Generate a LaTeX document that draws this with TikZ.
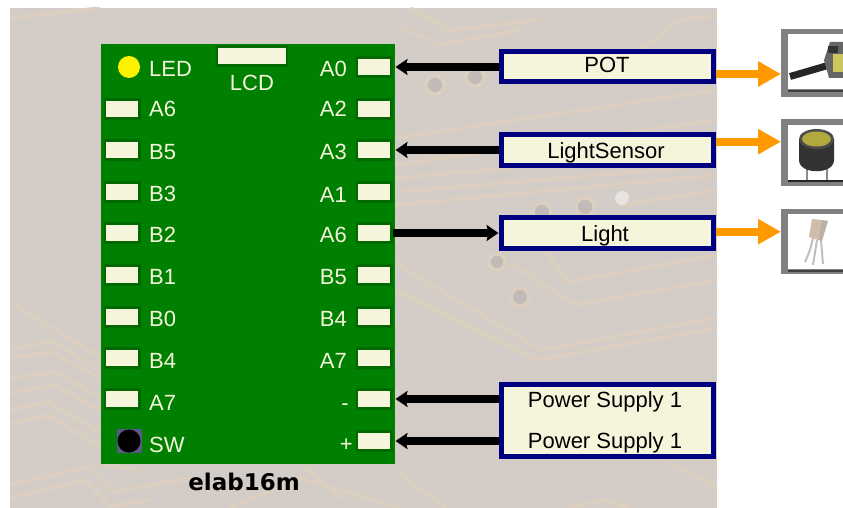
\documentclass[tikz,border=0pt]{standalone}
\usepackage{fontspec}
\setmainfont{Liberation Sans}
\newfontfamily\titlefont{DejaVu Sans}
\usetikzlibrary{arrows.meta}
\definecolor{boardgreen}{HTML}{008000}
\definecolor{pinedge}{HTML}{006A00}
\definecolor{pincream}{HTML}{F5F5DC}
\definecolor{boxblue}{HTML}{000080}
\definecolor{wireorange}{HTML}{FF9900}
\definecolor{pcbback}{HTML}{D4CCC6}
\definecolor{pcbtrace}{HTML}{DDCFC0}
\definecolor{pcbhole}{HTML}{C2BAB6}
\tikzset{
    boardtext/.style={text=pincream, inner sep=0pt, font=\fontsize{22}{26}\selectfont},
    pinbox/.style={draw=pinedge, fill=pincream, line width=2.5pt, minimum width=34.5pt, minimum height=19pt, inner sep=0pt},
    partbox/.style={draw=boxblue, fill=pincream, line width=5pt, minimum width=212pt, inner sep=0pt},
    parttext/.style={text=black, anchor=base, inner sep=0pt, font=\fontsize{22}{26}\selectfont},
    wirein/.style={-{Stealth[length=12pt, width=16pt, inset=2pt]}, line width=8pt, black},
    wireout/.style={-{Triangle[length=23pt, width=24pt]}, line width=8pt, wireorange},
    trace/.style={pcbtrace, line width=3.5pt},
    iconframe/.style={fill=black!50},
}
\begin{document}
\begin{tikzpicture}[x=1pt, y=-1pt]
    \useasboundingbox (0, 0) rectangle (843, 508);
    \fill[pcbback] (10, 8) rectangle (717, 508);

    \begin{scope}
        \clip (10, 8) rectangle (717, 508);
        \draw[trace] (10, 18) -- (100, 8);
        \draw[trace] (10, 302) -- (100, 357);
        \draw[trace] (10, 350) -- (52, 341) -- (100, 370);
        \draw[trace] (10, 358) -- (52, 352) -- (100, 378);
        \draw[trace] (10, 378) -- (55, 372) -- (100, 397);
        \draw[trace] (10, 393) -- (55, 385) -- (100, 410);
        \draw[trace] (10, 410) -- (48, 402) -- (100, 432);
        \draw[trace] (10, 424) -- (48, 415) -- (100, 447);
        \draw[trace] (10, 485) -- (88, 467) -- (113, 492) -- (190, 478);
        \draw[trace] (10, 498) -- (85, 480) -- (110, 506) -- (150, 500);
        \draw[trace] (100, 464) -- (140, 470);
        \draw[trace] (230, 508) -- (300, 478) -- (400, 508);
        \draw[trace] (300, 464) -- (345, 500);
        \draw[trace] (395, 263) -- (541, 350) -- (717, 318);
        \draw[trace] (395, 290) -- (538, 360) -- (717, 328);
        \draw[trace] (510, 263) -- (575, 305) -- (717, 280);
        \draw[trace] (545, 250) -- (568, 282) -- (717, 255);
        \draw[trace] (395, 470) -- (445, 508);
        \draw[trace] (568, 508) -- (602, 500) -- (630, 508);
        \draw[trace] (668, 463) -- (717, 487);
        \draw[trace] (395, 138) -- (717, 90);
        \draw[trace] (395, 165) -- (717, 120);
        \draw[trace] (395, 178) -- (717, 150);
        \draw[trace] (395, 192) -- (717, 165);
        \draw[trace] (395, 205) -- (717, 175);
        \draw[trace] (395, 25) -- (440, 45) -- (520, 30);
        \draw[trace] (410, 8) -- (450, 30) -- (540, 20);
        \draw[trace] (640, 50) -- (680, 20) -- (717, 15);
        \draw[trace] (620, 205) -- (717, 190);
        \draw[trace, fill=pcbhole] (435, 85) circle (9);
        \draw[trace, fill=pcbhole] (475, 77) circle (9);
        \draw[trace, fill=pcbhole] (497, 262) circle (8);
        \draw[trace, fill=pcbhole] (520, 297) circle (9);
        \draw[trace, fill=pcbhole] (585, 207) circle (9);
        \draw[trace, fill=pcbhole] (542, 212) circle (9);
        \fill[white!45!pcbback] (622, 198) circle (7);
    \end{scope}

    \fill[boardgreen] (101, 44) rectangle (395, 464);

    \fill[yellow] (129, 67) circle (11);
    \node[boardtext, anchor=base west] (ledtext) at (149, 77) {LED};
    \node[pinbox, minimum width=70pt] (lcdpin) at (252, 56) {};
    \node[boardtext, anchor=base] (lcdtext) at (252, 91) {LCD};

    \node[pinbox] (L1) at (122, 109) {};
    \node[boardtext, anchor=base west] (L1text) at (149, 117) {A6};
    \node[pinbox] (L2) at (122, 150) {};
    \node[boardtext, anchor=base west] (L2text) at (149, 159) {B5};
    \node[pinbox] (L3) at (122, 192) {};
    \node[boardtext, anchor=base west] (L3text) at (149, 201) {B3};
    \node[pinbox] (L4) at (122, 233) {};
    \node[boardtext, anchor=base west] (L4text) at (149, 242) {B2};
    \node[pinbox] (L5) at (122, 275) {};
    \node[boardtext, anchor=base west] (L5text) at (149, 284) {B1};
    \node[pinbox] (L6) at (122, 317) {};
    \node[boardtext, anchor=base west] (L6text) at (149, 326) {B0};
    \node[pinbox] (L7) at (122, 358) {};
    \node[boardtext, anchor=base west] (L7text) at (149, 368) {B4};
    \node[pinbox] (L8) at (122, 399) {};
    \node[boardtext, anchor=base west] (L8text) at (149, 410) {A7};

    \fill[black!45!blue!30!gray] (117, 429) rectangle (142, 453);
    \fill[black] (129, 441) circle (11.5);
    \node[boardtext, anchor=base west] (swtext) at (149, 452) {SW};

    \node[pinbox] (R1) at (374, 67) {};
    \node[boardtext, anchor=base east] (R1text) at (347, 77) {A0};
    \node[pinbox] (R2) at (374, 109) {};
    \node[boardtext, anchor=base east] (R2text) at (347, 117) {A2};
    \node[pinbox] (R3) at (374, 150) {};
    \node[boardtext, anchor=base east] (R3text) at (347, 160) {A3};
    \node[pinbox] (R4) at (374, 192) {};
    \node[boardtext, anchor=base east] (R4text) at (347, 202) {A1};
    \node[pinbox] (R5) at (374, 233) {};
    \node[boardtext, anchor=base east] (R5text) at (347, 242) {A6};
    \node[pinbox] (R6) at (374, 275) {};
    \node[boardtext, anchor=base east] (R6text) at (347, 284) {B5};
    \node[pinbox] (R7) at (374, 317) {};
    \node[boardtext, anchor=base east] (R7text) at (347, 326) {B4};
    \node[pinbox] (R8) at (374, 358) {};
    \node[boardtext, anchor=base east] (R8text) at (347, 368) {A7};
    \node[pinbox] (R9) at (374, 399) {};
    \node[boardtext, anchor=base east] (R9text) at (349, 410) {-};
    \node[pinbox] (R10) at (374, 441) {};
    \node[boardtext, anchor=base east] (R10text) at (353, 451) {+};

    \node[anchor=base, inner sep=0pt, font=\titlefont\bfseries\fontsize{23}{27}\selectfont] (title) at (244, 490) {elab16m};

    \node[partbox, minimum height=30pt] (POT) at (607, 67) {};
    \node[parttext] (POTtext) at (607, 73) {POT};
    \node[partbox, minimum height=31.5pt] (LS) at (607, 150) {};
    \node[parttext] (LStext) at (606, 158) {LightSensor};
    \node[partbox, minimum height=31.5pt] (LT) at (607, 233) {};
    \node[parttext] (LTtext) at (605, 241) {Light};
    \node[partbox, minimum height=72.5pt] (PS) at (607, 420.3) {};
    \node[parttext] (PS1text) at (605, 407) {Power Supply 1};
    \node[parttext] (PS2text) at (605, 448) {Power Supply 1};

    \draw[wirein, shorten >=3pt] (POT.west) -- (R1.east);
    \draw[wirein, shorten >=3pt] (LS.west) -- (R3.east);
    \draw[wirein] (R5.east) -- (LT.west);
    \draw[wirein, shorten >=3pt] (PS.west |- R9.east) -- (R9.east);
    \draw[wirein, shorten >=3pt] (PS.west |- R10.east) -- (R10.east);

    \fill[iconframe] (781, 29) rectangle (843, 97);
    \fill[white] (788, 34) rectangle (843, 89);
    \fill[black!75] (788, 90) rectangle (843, 92);
    \coordinate (POTicon) at (781, 74);
    \draw[line width=7pt, black!85] (790, 76.5) -- (826, 66);
    \fill[black!60] (824, 60) -- (830, 42) -- (843, 42) -- (843, 78) -- (829, 78) -- cycle;
    \fill[yellow!55!gray] (833, 54) -- (843, 54) -- (843, 72) -- (833, 72) -- cycle;
    \fill[black!80] (828, 46) rectangle (838, 53);

    \fill[iconframe] (781, 119) rectangle (843, 186);
    \fill[white] (788, 125) rectangle (843, 180);
    \coordinate (LSicon) at (781, 141.7);
    \draw[black!45, line width=2pt] (807, 165) -- (807, 181);
    \draw[black!45, line width=2pt] (827, 165) -- (827, 181);
    \fill[black!80] (799, 139) -- (799, 160) .. controls (799, 175) and (834, 175) .. (834, 160) -- (834, 139) -- cycle;
    \fill[black!70] (816.5, 139) ellipse (17.5 and 10);
    \fill[yellow!65!black] (816.5, 139) ellipse (14.5 and 7.5);
    \fill[black!85] (788, 180) rectangle (843, 182);

    \fill[iconframe] (781, 209) rectangle (843, 274);
    \fill[white] (788, 214) rectangle (843, 269);
    \fill[black!75] (788, 269.5) rectangle (843, 271.5);
    \coordinate (LTicon) at (781, 231.7);
    \draw[black!25, line width=2pt] (813, 238) -- (810, 250) -- (805, 262);
    \draw[black!25, line width=2pt] (817, 240) -- (813, 265);
    \draw[black!25, line width=2pt] (821, 240) -- (823, 264);
    \fill[black!30!brown!40] (812, 219) -- (822, 220) -- (818, 240) -- (809, 237) -- cycle;
    \fill[black!55!brown!40] (822, 220) -- (828, 221) -- (822, 241) -- (818, 240) -- cycle;

    \coordinate (POTout) at (POT.east |- POTicon);
    \coordinate (LSout) at (LS.east |- LSicon);
    \coordinate (LTout) at (LT.east |- LTicon);
    \draw[wireout] (POTout) -- (POTicon);
    \draw[wireout] (LSout) -- (LSicon);
    \draw[wireout] (LTout) -- (LTicon);
\end{tikzpicture}
\end{document}
